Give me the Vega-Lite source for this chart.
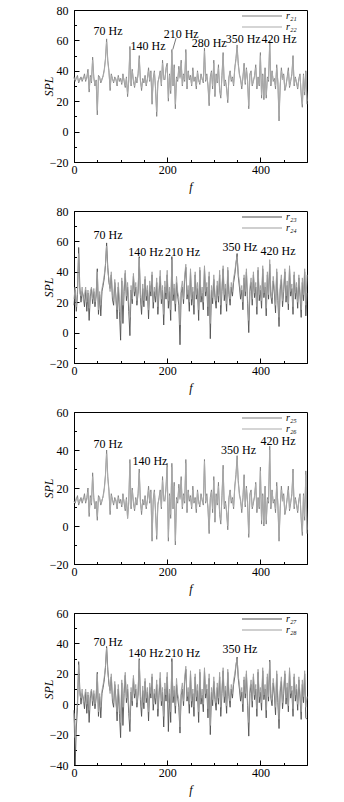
{
"padding": {"left": 41, "top": 3, "right": 5, "bottom": 5},
"spacing": 49,
"bounds": "flush",
"resolve": {"scale": {"x": "independent", "y": "independent", "color": "independent"}},
"config": {
  "view": {"stroke": "#000", "strokeWidth": 1},
  "axis": {"labelFont": "Liberation Serif", "labelFontSize": 12, "labelColor": "#000", "titleFont": "Liberation Serif", "titleFontSize": 12, "titleFontWeight": "normal", "titleFontStyle": "italic", "titleColor": "#000", "domainColor": "#000", "tickColor": "#000", "grid": false, "labelOverlap": false, "labelFlush": false, "tickSize": -5, "tickCount": 100},
  "axisX": {"labelPadding": 7, "titlePadding": 4},
  "axisY": {"labelPadding": 11, "titleX": -26, "titleBaseline": "middle", "titleAlign": "center"},
  "legend": {"labelFont": "Liberation Serif", "labelFontSize": 10, "labelFontStyle": "italic", "labelColor": "#000", "orient": "none", "legendX": 182, "legendY": 0, "title": null, "symbolType": "M-4,0H4", "symbolSize": 100, "symbolStrokeWidth": 1.2, "rowPadding": -2, "padding": 0, "labelOffset": 18},
  "text": {"font": "Liberation Serif", "fontSize": 12, "color": "#000"}
},
"datasets": {
"spec": [
{"f":0,"r21":36,"r22":35,"r23":18,"r24":22,"r25":13,"r26":12,"r27":-4,"r28":-6},
{"f":2.5,"r21":33,"r22":34,"r23":28,"r24":30,"r25":12,"r26":13,"r27":-40,"r28":-22},
{"f":5,"r21":35,"r22":36,"r23":14,"r24":17,"r25":14,"r26":15,"r27":-15,"r28":-8},
{"f":7.5,"r21":37,"r22":35,"r23":25,"r24":28,"r25":16,"r26":14,"r27":-2,"r28":2},
{"f":10,"r21":32,"r22":33,"r23":56,"r24":52,"r25":11,"r26":12,"r27":28,"r28":26},
{"f":12.5,"r21":34,"r22":35,"r23":30,"r24":26,"r25":13,"r26":14,"r27":10,"r28":6},
{"f":15,"r21":36,"r22":34,"r23":20,"r24":24,"r25":15,"r26":13,"r27":0,"r28":4},
{"f":17.5,"r21":33,"r22":34,"r23":27,"r24":30,"r25":12,"r26":13,"r27":7,"r28":10},
{"f":20,"r21":35,"r22":36,"r23":24,"r24":21,"r25":14,"r26":15,"r27":4,"r28":1},
{"f":22.5,"r21":38,"r22":36,"r23":17,"r24":25,"r25":17,"r26":15,"r27":-3,"r28":5},
{"f":25,"r21":33,"r22":34,"r23":28,"r24":30,"r25":12,"r26":13,"r27":8,"r28":10},
{"f":27.5,"r21":36,"r22":35,"r23":14,"r24":20,"r25":15,"r26":14,"r27":-6,"r28":0},
{"f":30,"r21":41,"r22":39,"r23":26,"r24":28,"r25":20,"r26":18,"r27":6,"r28":8},
{"f":32.5,"r21":26,"r22":28,"r23":8,"r24":16,"r25":5,"r26":7,"r27":-12,"r28":-4},
{"f":35,"r21":37,"r22":36,"r23":24,"r24":27,"r25":16,"r26":15,"r27":4,"r28":7},
{"f":37.5,"r21":32,"r22":33,"r23":29,"r24":30,"r25":11,"r26":12,"r27":9,"r28":10},
{"f":40,"r21":49,"r22":47,"r23":19,"r24":22,"r25":28,"r26":26,"r27":-1,"r28":2},
{"f":42.5,"r21":36,"r22":35,"r23":27,"r24":29,"r25":15,"r26":14,"r27":7,"r28":9},
{"f":45,"r21":30,"r22":31,"r23":17,"r24":20,"r25":9,"r26":10,"r27":-3,"r28":0},
{"f":47.5,"r21":34,"r22":33,"r23":24,"r24":26,"r25":13,"r26":12,"r27":4,"r28":6},
{"f":50,"r21":11,"r22":14,"r23":42,"r24":40,"r25":3,"r26":5,"r27":21,"r28":20},
{"f":52.5,"r21":37,"r22":36,"r23":12,"r24":15,"r25":16,"r26":15,"r27":-8,"r28":-5},
{"f":55,"r21":36,"r22":35,"r23":25,"r24":27,"r25":15,"r26":14,"r27":5,"r28":7},
{"f":57.5,"r21":32,"r22":33,"r23":11,"r24":18,"r25":11,"r26":12,"r27":-9,"r28":-2},
{"f":60,"r21":34,"r22":35,"r23":27,"r24":29,"r25":13,"r26":14,"r27":7,"r28":9},
{"f":62.5,"r21":37,"r22":36,"r23":31,"r24":33,"r25":16,"r26":15,"r27":11,"r28":13},
{"f":65,"r21":41,"r22":40,"r23":36,"r24":38,"r25":20,"r26":19,"r27":16,"r28":18},
{"f":67.5,"r21":48,"r22":47,"r23":44,"r24":45,"r25":27,"r26":26,"r27":24,"r28":25},
{"f":70,"r21":61,"r22":59,"r23":59,"r24":57,"r25":40,"r26":38,"r27":38,"r28":37},
{"f":72.5,"r21":47,"r22":46,"r23":43,"r24":41,"r25":26,"r26":25,"r27":23,"r28":21},
{"f":75,"r21":40,"r22":39,"r23":33,"r24":35,"r25":19,"r26":18,"r27":13,"r28":15},
{"f":77.5,"r21":27,"r22":29,"r23":29,"r24":27,"r25":6,"r26":8,"r27":9,"r28":7},
{"f":80,"r21":38,"r22":37,"r23":38,"r24":40,"r25":17,"r26":16,"r27":18,"r28":20},
{"f":82.5,"r21":35,"r22":34,"r23":22,"r24":25,"r25":14,"r26":13,"r27":2,"r28":5},
{"f":85,"r21":32,"r22":33,"r23":18,"r24":21,"r25":11,"r26":12,"r27":-2,"r28":1},
{"f":87.5,"r21":36,"r22":35,"r23":33,"r24":35,"r25":15,"r26":14,"r27":13,"r28":15},
{"f":90,"r21":34,"r22":35,"r23":24,"r24":20,"r25":13,"r26":14,"r27":4,"r28":0},
{"f":92.5,"r21":30,"r22":31,"r23":9,"r24":15,"r25":9,"r26":10,"r27":-11,"r28":-5},
{"f":95,"r21":37,"r22":36,"r23":30,"r24":33,"r25":16,"r26":15,"r27":10,"r28":13},
{"f":97.5,"r21":33,"r22":34,"r23":14,"r24":22,"r25":12,"r26":13,"r27":-6,"r28":2},
{"f":100,"r21":35,"r22":34,"r23":-5,"r24":8,"r25":14,"r26":13,"r27":-22,"r28":-12},
{"f":102.5,"r21":31,"r22":32,"r23":34,"r24":36,"r25":10,"r26":11,"r27":14,"r28":16},
{"f":105,"r21":38,"r22":37,"r23":6,"r24":18,"r25":17,"r26":16,"r27":-14,"r28":-2},
{"f":107.5,"r21":33,"r22":34,"r23":27,"r24":30,"r25":12,"r26":13,"r27":7,"r28":10},
{"f":110,"r21":29,"r22":30,"r23":39,"r24":41,"r25":8,"r26":9,"r27":19,"r28":21},
{"f":112.5,"r21":36,"r22":35,"r23":21,"r24":24,"r25":15,"r26":14,"r27":1,"r28":4},
{"f":115,"r21":23,"r22":25,"r23":30,"r24":33,"r25":4,"r26":4,"r27":10,"r28":13},
{"f":117.5,"r21":34,"r22":33,"r23":14,"r24":20,"r25":13,"r26":12,"r27":-6,"r28":0},
{"f":120,"r21":56,"r22":54,"r23":-2,"r24":10,"r25":35,"r26":33,"r27":-18,"r28":-10},
{"f":122.5,"r21":30,"r22":31,"r23":28,"r24":31,"r25":9,"r26":10,"r27":8,"r28":11},
{"f":125,"r21":41,"r22":40,"r23":19,"r24":22,"r25":20,"r26":19,"r27":-1,"r28":2},
{"f":127.5,"r21":33,"r22":34,"r23":37,"r24":39,"r25":12,"r26":13,"r27":17,"r28":19},
{"f":130,"r21":29,"r22":30,"r23":24,"r24":27,"r25":8,"r26":9,"r27":4,"r28":7},
{"f":132.5,"r21":36,"r22":35,"r23":30,"r24":33,"r25":15,"r26":14,"r27":10,"r28":13},
{"f":135,"r21":32,"r22":33,"r23":18,"r24":21,"r25":11,"r26":12,"r27":-2,"r28":1},
{"f":137.5,"r21":38,"r22":37,"r23":26,"r24":29,"r25":17,"r26":16,"r27":6,"r28":9},
{"f":140,"r21":50,"r22":48,"r23":50,"r24":49,"r25":30,"r26":28,"r27":30,"r28":29},
{"f":142.5,"r21":34,"r22":33,"r23":23,"r24":26,"r25":13,"r26":12,"r27":3,"r28":6},
{"f":145,"r21":27,"r22":29,"r23":12,"r24":18,"r25":6,"r26":8,"r27":-8,"r28":-2},
{"f":147.5,"r21":35,"r22":34,"r23":29,"r24":32,"r25":14,"r26":13,"r27":9,"r28":12},
{"f":150,"r21":32,"r22":33,"r23":17,"r24":21,"r25":11,"r26":12,"r27":-3,"r28":1},
{"f":152.5,"r21":37,"r22":36,"r23":35,"r24":37,"r25":16,"r26":15,"r27":15,"r28":17},
{"f":155,"r21":30,"r22":31,"r23":21,"r24":24,"r25":9,"r26":10,"r27":1,"r28":4},
{"f":157.5,"r21":35,"r22":34,"r23":28,"r24":31,"r25":14,"r26":13,"r27":8,"r28":11},
{"f":160,"r21":42,"r22":40,"r23":9,"r24":15,"r25":21,"r26":19,"r27":-11,"r28":-5},
{"f":162.5,"r21":33,"r22":34,"r23":31,"r24":34,"r25":12,"r26":13,"r27":11,"r28":14},
{"f":165,"r21":40,"r22":39,"r23":24,"r24":27,"r25":19,"r26":18,"r27":4,"r28":7},
{"f":167.5,"r21":18,"r22":20,"r23":38,"r24":40,"r25":-8,"r26":-6,"r27":18,"r28":20},
{"f":170,"r21":35,"r22":34,"r23":16,"r24":20,"r25":14,"r26":13,"r27":-4,"r28":0},
{"f":172.5,"r21":40,"r22":39,"r23":27,"r24":30,"r25":19,"r26":18,"r27":7,"r28":10},
{"f":175,"r21":28,"r22":29,"r23":20,"r24":24,"r25":7,"r26":8,"r27":0,"r28":4},
{"f":177.5,"r21":10,"r22":13,"r23":33,"r24":36,"r25":-7,"r26":-5,"r27":13,"r28":16},
{"f":180,"r21":32,"r22":33,"r23":12,"r24":17,"r25":11,"r26":12,"r27":-8,"r28":-3},
{"f":182.5,"r21":36,"r22":35,"r23":26,"r24":29,"r25":15,"r26":14,"r27":6,"r28":9},
{"f":185,"r21":40,"r22":39,"r23":37,"r24":41,"r25":19,"r26":18,"r27":17,"r28":21},
{"f":187.5,"r21":30,"r22":31,"r23":19,"r24":22,"r25":9,"r26":10,"r27":-1,"r28":2},
{"f":190,"r21":47,"r22":45,"r23":28,"r24":31,"r25":26,"r26":24,"r27":8,"r28":11},
{"f":192.5,"r21":35,"r22":34,"r23":5,"r24":12,"r25":14,"r26":13,"r27":-15,"r28":-8},
{"f":195,"r21":34,"r22":35,"r23":30,"r24":34,"r25":13,"r26":14,"r27":10,"r28":14},
{"f":197.5,"r21":42,"r22":40,"r23":22,"r24":26,"r25":21,"r26":19,"r27":2,"r28":6},
{"f":200,"r21":45,"r22":43,"r23":38,"r24":41,"r25":33,"r26":31,"r27":18,"r28":21},
{"f":202.5,"r21":20,"r22":22,"r23":16,"r24":21,"r25":-8,"r26":-6,"r27":-18,"r28":1},
{"f":205,"r21":38,"r22":37,"r23":27,"r24":30,"r25":17,"r26":16,"r27":7,"r28":10},
{"f":207.5,"r21":25,"r22":27,"r23":8,"r24":15,"r25":4,"r26":6,"r27":-12,"r28":-5},
{"f":210,"r21":54,"r22":52,"r23":50,"r24":48,"r25":33,"r26":31,"r27":30,"r28":28},
{"f":212.5,"r21":30,"r22":31,"r23":21,"r24":25,"r25":9,"r26":10,"r27":1,"r28":5},
{"f":215,"r21":44,"r22":42,"r23":29,"r24":32,"r25":23,"r26":21,"r27":9,"r28":12},
{"f":217.5,"r21":15,"r22":18,"r23":14,"r24":19,"r25":-10,"r26":-8,"r27":-6,"r28":-1},
{"f":220,"r21":36,"r22":35,"r23":33,"r24":37,"r25":15,"r26":14,"r27":13,"r28":17},
{"f":222.5,"r21":33,"r22":34,"r23":24,"r24":27,"r25":12,"r26":13,"r27":4,"r28":7},
{"f":225,"r21":43,"r22":41,"r23":18,"r24":23,"r25":22,"r26":20,"r27":-2,"r28":3},
{"f":227.5,"r21":36,"r22":35,"r23":-8,"r24":5,"r25":15,"r26":14,"r27":-19,"r28":-15},
{"f":230,"r21":47,"r22":45,"r23":26,"r24":29,"r25":26,"r26":24,"r27":6,"r28":9},
{"f":232.5,"r21":30,"r22":31,"r23":30,"r24":34,"r25":9,"r26":10,"r27":10,"r28":14},
{"f":235,"r21":38,"r22":37,"r23":19,"r24":22,"r25":17,"r26":16,"r27":-1,"r28":2},
{"f":237.5,"r21":33,"r22":34,"r23":35,"r24":38,"r25":12,"r26":13,"r27":15,"r28":18},
{"f":240,"r21":54,"r22":52,"r23":43,"r24":45,"r25":35,"r26":33,"r27":23,"r28":25},
{"f":242.5,"r21":28,"r22":30,"r23":22,"r24":25,"r25":7,"r26":9,"r27":2,"r28":5},
{"f":245,"r21":40,"r22":39,"r23":28,"r24":31,"r25":19,"r26":18,"r27":8,"r28":11},
{"f":247.5,"r21":34,"r22":35,"r23":14,"r24":20,"r25":13,"r26":14,"r27":-6,"r28":0},
{"f":250,"r21":37,"r22":36,"r23":40,"r24":42,"r25":16,"r26":15,"r27":20,"r28":22},
{"f":252.5,"r21":30,"r22":31,"r23":18,"r24":22,"r25":9,"r26":10,"r27":-2,"r28":2},
{"f":255,"r21":42,"r22":40,"r23":27,"r24":30,"r25":21,"r26":19,"r27":7,"r28":10},
{"f":257.5,"r21":33,"r22":34,"r23":12,"r24":18,"r25":12,"r26":13,"r27":-8,"r28":-2},
{"f":260,"r21":36,"r22":35,"r23":38,"r24":40,"r25":15,"r26":14,"r27":18,"r28":20},
{"f":262.5,"r21":28,"r22":30,"r23":22,"r24":25,"r25":7,"r26":9,"r27":2,"r28":5},
{"f":265,"r21":40,"r22":39,"r23":29,"r24":33,"r25":19,"r26":18,"r27":9,"r28":13},
{"f":267.5,"r21":34,"r22":33,"r23":8,"r24":15,"r25":13,"r26":12,"r27":-12,"r28":-5},
{"f":270,"r21":31,"r22":32,"r23":41,"r24":43,"r25":10,"r26":11,"r27":21,"r28":23},
{"f":272.5,"r21":38,"r22":37,"r23":20,"r24":24,"r25":17,"r26":16,"r27":0,"r28":4},
{"f":275,"r21":35,"r22":34,"r23":26,"r24":30,"r25":14,"r26":13,"r27":6,"r28":10},
{"f":277.5,"r21":32,"r22":33,"r23":15,"r24":20,"r25":11,"r26":12,"r27":-5,"r28":0},
{"f":280,"r21":55,"r22":53,"r23":42,"r24":44,"r25":35,"r26":34,"r27":22,"r28":24},
{"f":282.5,"r21":33,"r22":34,"r23":24,"r24":27,"r25":12,"r26":13,"r27":4,"r28":7},
{"f":285,"r21":38,"r22":37,"r23":30,"r24":33,"r25":17,"r26":16,"r27":10,"r28":13},
{"f":287.5,"r21":30,"r22":31,"r23":11,"r24":17,"r25":9,"r26":10,"r27":-9,"r28":-3},
{"f":290,"r21":17,"r22":19,"r23":37,"r24":40,"r25":-4,"r26":-2,"r27":17,"r28":20},
{"f":292.5,"r21":36,"r22":35,"r23":-4,"r24":6,"r25":15,"r26":14,"r27":-20,"r28":-14},
{"f":295,"r21":40,"r22":39,"r23":28,"r24":31,"r25":19,"r26":18,"r27":8,"r28":11},
{"f":297.5,"r21":28,"r22":30,"r23":19,"r24":23,"r25":7,"r26":9,"r27":-1,"r28":3},
{"f":300,"r21":47,"r22":45,"r23":35,"r24":38,"r25":26,"r26":24,"r27":15,"r28":18},
{"f":302.5,"r21":23,"r22":25,"r23":23,"r24":26,"r25":2,"r26":4,"r27":3,"r28":6},
{"f":305,"r21":38,"r22":37,"r23":16,"r24":21,"r25":17,"r26":16,"r27":-4,"r28":1},
{"f":307.5,"r21":32,"r22":33,"r23":31,"r24":34,"r25":11,"r26":12,"r27":11,"r28":14},
{"f":310,"r21":44,"r22":42,"r23":20,"r24":24,"r25":23,"r26":21,"r27":0,"r28":4},
{"f":312.5,"r21":27,"r22":28,"r23":38,"r24":41,"r25":6,"r26":7,"r27":18,"r28":21},
{"f":315,"r21":22,"r22":24,"r23":12,"r24":18,"r25":1,"r26":3,"r27":-8,"r28":-2},
{"f":317.5,"r21":37,"r22":36,"r23":27,"r24":30,"r25":16,"r26":15,"r27":7,"r28":10},
{"f":320,"r21":52,"r22":50,"r23":42,"r24":44,"r25":32,"r26":30,"r27":22,"r28":24},
{"f":322.5,"r21":30,"r22":31,"r23":21,"r24":25,"r25":9,"r26":10,"r27":1,"r28":5},
{"f":325,"r21":34,"r22":33,"r23":29,"r24":32,"r25":13,"r26":12,"r27":9,"r28":12},
{"f":327.5,"r21":28,"r22":29,"r23":14,"r24":19,"r25":7,"r26":8,"r27":-6,"r28":-1},
{"f":330,"r21":19,"r22":21,"r23":41,"r24":43,"r25":-2,"r26":0,"r27":21,"r28":23},
{"f":332.5,"r21":36,"r22":35,"r23":25,"r24":28,"r25":15,"r26":14,"r27":5,"r28":8},
{"f":335,"r21":40,"r22":39,"r23":18,"r24":22,"r25":19,"r26":18,"r27":-2,"r28":2},
{"f":337.5,"r21":33,"r22":34,"r23":30,"r24":33,"r25":12,"r26":13,"r27":10,"r28":13},
{"f":340,"r21":36,"r22":35,"r23":24,"r24":27,"r25":15,"r26":14,"r27":4,"r28":7},
{"f":342.5,"r21":30,"r22":31,"r23":33,"r24":36,"r25":9,"r26":10,"r27":13,"r28":16},
{"f":345,"r21":42,"r22":41,"r23":38,"r24":40,"r25":21,"r26":20,"r27":18,"r28":20},
{"f":347.5,"r21":48,"r22":47,"r23":45,"r24":46,"r25":27,"r26":26,"r27":25,"r28":26},
{"f":350,"r21":57,"r22":55,"r23":52,"r24":50,"r25":37,"r26":35,"r27":31,"r28":30},
{"f":352.5,"r21":45,"r22":44,"r23":37,"r24":39,"r25":24,"r26":23,"r27":17,"r28":19},
{"f":355,"r21":38,"r22":37,"r23":30,"r24":33,"r25":17,"r26":16,"r27":10,"r28":13},
{"f":357.5,"r21":34,"r22":35,"r23":22,"r24":26,"r25":13,"r26":14,"r27":2,"r28":6},
{"f":360,"r21":28,"r22":30,"r23":28,"r24":31,"r25":7,"r26":9,"r27":8,"r28":11},
{"f":362.5,"r21":36,"r22":35,"r23":15,"r24":20,"r25":15,"r26":14,"r27":-5,"r28":0},
{"f":365,"r21":45,"r22":43,"r23":36,"r24":38,"r25":27,"r26":25,"r27":16,"r28":18},
{"f":367.5,"r21":31,"r22":32,"r23":24,"r24":27,"r25":10,"r26":11,"r27":4,"r28":7},
{"f":370,"r21":42,"r22":41,"r23":40,"r24":42,"r25":21,"r26":20,"r27":20,"r28":22},
{"f":372.5,"r21":33,"r22":34,"r23":19,"r24":23,"r25":12,"r26":13,"r27":-1,"r28":3},
{"f":375,"r21":15,"r22":17,"r23":0,"r24":8,"r25":-6,"r26":-4,"r27":-21,"r28":-12},
{"f":377.5,"r21":38,"r22":37,"r23":27,"r24":30,"r25":17,"r26":16,"r27":7,"r28":10},
{"f":380,"r21":40,"r22":39,"r23":33,"r24":36,"r25":19,"r26":18,"r27":13,"r28":16},
{"f":382.5,"r21":30,"r22":31,"r23":18,"r24":22,"r25":9,"r26":10,"r27":-2,"r28":2},
{"f":385,"r21":33,"r22":34,"r23":38,"r24":40,"r25":12,"r26":13,"r27":18,"r28":20},
{"f":387.5,"r21":37,"r22":36,"r23":23,"r24":26,"r25":16,"r26":15,"r27":3,"r28":6},
{"f":390,"r21":44,"r22":42,"r23":30,"r24":33,"r25":23,"r26":22,"r27":10,"r28":13},
{"f":392.5,"r21":28,"r22":30,"r23":12,"r24":17,"r25":7,"r26":9,"r27":-8,"r28":-3},
{"f":395,"r21":36,"r22":35,"r23":41,"r24":43,"r25":15,"r26":14,"r27":21,"r28":23},
{"f":397.5,"r21":30,"r22":31,"r23":21,"r24":25,"r25":9,"r26":10,"r27":1,"r28":5},
{"f":400,"r21":52,"r22":50,"r23":28,"r24":31,"r25":31,"r26":29,"r27":8,"r28":11},
{"f":402.5,"r21":22,"r22":24,"r23":16,"r24":21,"r25":1,"r26":3,"r27":-4,"r28":1},
{"f":405,"r21":38,"r22":37,"r23":42,"r24":44,"r25":17,"r26":16,"r27":22,"r28":24},
{"f":407.5,"r21":21,"r22":23,"r23":23,"r24":26,"r25":0,"r26":2,"r27":3,"r28":6},
{"f":410,"r21":42,"r22":40,"r23":30,"r24":33,"r25":21,"r26":20,"r27":10,"r28":13},
{"f":412.5,"r21":22,"r22":24,"r23":11,"r24":16,"r25":1,"r26":3,"r27":-9,"r28":-4},
{"f":415,"r21":36,"r22":35,"r23":38,"r24":40,"r25":15,"r26":14,"r27":18,"r28":20},
{"f":417.5,"r21":33,"r22":34,"r23":22,"r24":25,"r25":12,"r26":13,"r27":2,"r28":5},
{"f":420,"r21":60,"r22":58,"r23":45,"r24":48,"r25":42,"r26":40,"r27":29,"r28":28},
{"f":422.5,"r21":30,"r22":31,"r23":24,"r24":27,"r25":9,"r26":10,"r27":4,"r28":7},
{"f":425,"r21":40,"r22":39,"r23":19,"r24":23,"r25":19,"r26":18,"r27":-1,"r28":3},
{"f":427.5,"r21":33,"r22":34,"r23":34,"r24":37,"r25":12,"r26":13,"r27":14,"r28":17},
{"f":430,"r21":35,"r22":34,"r23":26,"r24":29,"r25":14,"r26":13,"r27":6,"r28":9},
{"f":432.5,"r21":28,"r22":30,"r23":13,"r24":18,"r25":7,"r26":9,"r27":-7,"r28":-2},
{"f":435,"r21":44,"r22":42,"r23":40,"r24":42,"r25":23,"r26":21,"r27":20,"r28":22},
{"f":437.5,"r21":32,"r22":33,"r23":21,"r24":25,"r25":11,"r26":12,"r27":1,"r28":5},
{"f":440,"r21":7,"r22":10,"r23":4,"r24":10,"r25":-8,"r26":-6,"r27":-16,"r28":-10},
{"f":442.5,"r21":30,"r22":31,"r23":28,"r24":31,"r25":9,"r26":10,"r27":8,"r28":11},
{"f":445,"r21":42,"r22":40,"r23":35,"r24":38,"r25":21,"r26":19,"r27":15,"r28":18},
{"f":447.5,"r21":35,"r22":34,"r23":17,"r24":21,"r25":14,"r26":13,"r27":-3,"r28":1},
{"f":450,"r21":38,"r22":37,"r23":27,"r24":30,"r25":17,"r26":16,"r27":7,"r28":10},
{"f":452.5,"r21":27,"r22":28,"r23":40,"r24":42,"r25":6,"r26":7,"r27":20,"r28":22},
{"f":455,"r21":30,"r22":31,"r23":20,"r24":24,"r25":9,"r26":10,"r27":0,"r28":4},
{"f":457.5,"r21":36,"r22":35,"r23":31,"r24":34,"r25":15,"r26":14,"r27":11,"r28":14},
{"f":460,"r21":42,"r22":40,"r23":15,"r24":19,"r25":21,"r26":19,"r27":-5,"r28":-1},
{"f":462.5,"r21":29,"r22":30,"r23":42,"r24":44,"r25":8,"r26":9,"r27":22,"r28":24},
{"f":465,"r21":33,"r22":34,"r23":24,"r24":27,"r25":12,"r26":13,"r27":4,"r28":7},
{"f":467.5,"r21":38,"r22":37,"r23":29,"r24":32,"r25":17,"r26":16,"r27":9,"r28":12},
{"f":470,"r21":50,"r22":48,"r23":12,"r24":17,"r25":30,"r26":28,"r27":-8,"r28":-3},
{"f":472.5,"r21":30,"r22":31,"r23":38,"r24":40,"r25":9,"r26":10,"r27":18,"r28":20},
{"f":475,"r21":36,"r22":35,"r23":22,"r24":26,"r25":15,"r26":14,"r27":2,"r28":6},
{"f":477.5,"r21":32,"r22":33,"r23":30,"r24":33,"r25":11,"r26":12,"r27":10,"r28":13},
{"f":480,"r21":28,"r22":29,"r23":16,"r24":20,"r25":7,"r26":8,"r27":-4,"r28":0},
{"f":482.5,"r21":35,"r22":34,"r23":36,"r24":38,"r25":14,"r26":13,"r27":16,"r28":18},
{"f":485,"r21":38,"r22":37,"r23":24,"r24":27,"r25":17,"r26":16,"r27":4,"r28":7},
{"f":487.5,"r21":24,"r22":26,"r23":10,"r24":15,"r25":3,"r26":5,"r27":-10,"r28":-5},
{"f":490,"r21":16,"r22":18,"r23":33,"r24":36,"r25":-5,"r26":-3,"r27":13,"r28":16},
{"f":492.5,"r21":38,"r22":37,"r23":21,"r24":25,"r25":17,"r26":16,"r27":1,"r28":5},
{"f":495,"r21":24,"r22":26,"r23":40,"r24":42,"r25":3,"r26":5,"r27":20,"r28":22},
{"f":497.5,"r21":40,"r22":39,"r23":11,"r24":18,"r25":29,"r26":27,"r27":-9,"r28":-2},
{"f":500,"r21":18,"r22":20,"r23":26,"r24":38,"r25":-4,"r26":-2,"r27":-10,"r28":5}
],
"ann": [
{"panel":1,"f":73,"SPL":66,"label":"70 Hz"},
{"panel":1,"f":159,"SPL":56,"label":"140 Hz"},
{"panel":1,"f":230,"SPL":64,"label":"210 Hz"},
{"panel":1,"f":290,"SPL":58,"label":"280 Hz"},
{"panel":1,"f":363,"SPL":61,"label":"350 Hz"},
{"panel":1,"f":440,"SPL":61,"label":"420 Hz"},
{"panel":2,"f":73,"SPL":64,"label":"70 Hz"},
{"panel":2,"f":154,"SPL":53,"label":"140 Hz"},
{"panel":2,"f":233,"SPL":53,"label":"210 Hz"},
{"panel":2,"f":356,"SPL":56,"label":"350 Hz"},
{"panel":2,"f":438,"SPL":54,"label":"420 Hz"},
{"panel":3,"f":73,"SPL":43,"label":"70 Hz"},
{"panel":3,"f":163,"SPL":34,"label":"140 Hz"},
{"panel":3,"f":353,"SPL":40,"label":"350 Hz"},
{"panel":3,"f":438,"SPL":45,"label":"420 Hz"},
{"panel":4,"f":73,"SPL":41,"label":"70 Hz"},
{"panel":4,"f":154,"SPL":34,"label":"140 Hz"},
{"panel":4,"f":233,"SPL":34,"label":"210 Hz"},
{"panel":4,"f":356,"SPL":36,"label":"350 Hz"}
],
"lead": [{"f":212,"SPL":54,"f2":219,"SPL2":61.5}]
},
"vconcat": [
{
 "width": 233, "height": 152,
 "layer": [
  {"data": {"name": "spec"}, "transform": [{"fold": ["r21", "r22"], "as": ["series", "SPL"]}],
   "mark": {"type": "line", "strokeWidth": 0.9},
   "encoding": {
    "x": {"field": "f", "type": "quantitative", "scale": {"domain": [0, 500], "nice": false}, "axis": {"values": [0,50,100,150,200,250,300,350,400,450,500], "tickCount": 100, "labelExpr": "datum.value % 200 === 0 ? datum.label : ''", "tickSize": {"condition": {"test": "datum.value % 200 === 0", "value": -5}, "value": -2.5}, "title": "f"}},
    "y": {"field": "SPL", "type": "quantitative", "scale": {"domain": [-20, 80], "nice": false}, "axis": {"values": [-20,-10,0,10,20,30,40,50,60,70,80], "tickCount": 100, "labelExpr": "datum.value % 20 === 0 ? datum.label : ''", "tickSize": {"condition": {"test": "datum.value % 20 === 0", "value": -5}, "value": -2.5}, "title": "SPL"}},
    "color": {"field": "series", "type": "nominal", "scale": {"domain": ["r21", "r22"], "range": ["#808080", "#ababab"]}, "legend": {"labelExpr": "datum.label == 'r21' ? 'r₂₁' : 'r₂₂'"}}
   }},
  {"data": {"name": "ann"}, "transform": [{"filter": "datum.panel == 1"}], "mark": {"type": "text"},
   "encoding": {"x": {"field": "f", "type": "quantitative"}, "y": {"field": "SPL", "type": "quantitative"}, "text": {"field": "label"}}},
  {"data": {"name": "lead"}, "mark": {"type": "rule", "strokeWidth": 0.8, "color": "#555"},
   "encoding": {"x": {"field": "f", "type": "quantitative"}, "y": {"field": "SPL", "type": "quantitative"}, "x2": {"field": "f2"}, "y2": {"field": "SPL2"}}}
 ]
},
{
 "width": 233, "height": 152,
 "layer": [
  {"data": {"name": "spec"}, "transform": [{"fold": ["r23", "r24"], "as": ["series", "SPL"]}],
   "mark": {"type": "line", "strokeWidth": 0.9},
   "encoding": {
    "x": {"field": "f", "type": "quantitative", "scale": {"domain": [0, 500], "nice": false}, "axis": {"values": [0,50,100,150,200,250,300,350,400,450,500], "tickCount": 100, "labelExpr": "datum.value % 200 === 0 ? datum.label : ''", "tickSize": {"condition": {"test": "datum.value % 200 === 0", "value": -5}, "value": -2.5}, "title": "f"}},
    "y": {"field": "SPL", "type": "quantitative", "scale": {"domain": [-20, 80], "nice": false}, "axis": {"values": [-20,-10,0,10,20,30,40,50,60,70,80], "tickCount": 100, "labelExpr": "datum.value % 20 === 0 ? datum.label : ''", "tickSize": {"condition": {"test": "datum.value % 20 === 0", "value": -5}, "value": -2.5}, "title": "SPL"}},
    "color": {"field": "series", "type": "nominal", "scale": {"domain": ["r23", "r24"], "range": ["#505050", "#a0a0a0"]}, "legend": {"labelExpr": "datum.label == 'r23' ? 'r₂₃' : 'r₂₄'"}}
   }},
  {"data": {"name": "ann"}, "transform": [{"filter": "datum.panel == 2"}], "mark": {"type": "text"},
   "encoding": {"x": {"field": "f", "type": "quantitative"}, "y": {"field": "SPL", "type": "quantitative"}, "text": {"field": "label"}}}
 ]
},
{
 "width": 233, "height": 152,
 "layer": [
  {"data": {"name": "spec"}, "transform": [{"fold": ["r25", "r26"], "as": ["series", "SPL"]}],
   "mark": {"type": "line", "strokeWidth": 0.9},
   "encoding": {
    "x": {"field": "f", "type": "quantitative", "scale": {"domain": [0, 500], "nice": false}, "axis": {"values": [0,50,100,150,200,250,300,350,400,450,500], "tickCount": 100, "labelExpr": "datum.value % 200 === 0 ? datum.label : ''", "tickSize": {"condition": {"test": "datum.value % 200 === 0", "value": -5}, "value": -2.5}, "title": "f"}},
    "y": {"field": "SPL", "type": "quantitative", "scale": {"domain": [-20, 60], "nice": false}, "axis": {"values": [-20,-10,0,10,20,30,40,50,60], "tickCount": 100, "labelExpr": "datum.value % 20 === 0 ? datum.label : ''", "tickSize": {"condition": {"test": "datum.value % 20 === 0", "value": -5}, "value": -2.5}, "title": "SPL"}},
    "color": {"field": "series", "type": "nominal", "scale": {"domain": ["r25", "r26"], "range": ["#808080", "#ababab"]}, "legend": {"labelExpr": "datum.label == 'r25' ? 'r₂₅' : 'r₂₆'"}}
   }},
  {"data": {"name": "ann"}, "transform": [{"filter": "datum.panel == 3"}], "mark": {"type": "text"},
   "encoding": {"x": {"field": "f", "type": "quantitative"}, "y": {"field": "SPL", "type": "quantitative"}, "text": {"field": "label"}}}
 ]
},
{
 "width": 233, "height": 152,
 "layer": [
  {"data": {"name": "spec"}, "transform": [{"fold": ["r27", "r28"], "as": ["series", "SPL"]}],
   "mark": {"type": "line", "strokeWidth": 0.9},
   "encoding": {
    "x": {"field": "f", "type": "quantitative", "scale": {"domain": [0, 500], "nice": false}, "axis": {"values": [0,50,100,150,200,250,300,350,400,450,500], "tickCount": 100, "labelExpr": "datum.value % 200 === 0 ? datum.label : ''", "tickSize": {"condition": {"test": "datum.value % 200 === 0", "value": -5}, "value": -2.5}, "title": "f"}},
    "y": {"field": "SPL", "type": "quantitative", "scale": {"domain": [-40, 60], "nice": false}, "axis": {"values": [-40,-30,-20,-10,0,10,20,30,40,50,60], "tickCount": 100, "labelExpr": "datum.value % 20 === 0 ? datum.label : ''", "tickSize": {"condition": {"test": "datum.value % 20 === 0", "value": -5}, "value": -2.5}, "title": "SPL"}},
    "color": {"field": "series", "type": "nominal", "scale": {"domain": ["r27", "r28"], "range": ["#505050", "#a0a0a0"]}, "legend": {"labelExpr": "datum.label == 'r27' ? 'r₂₇' : 'r₂₈'"}}
   }},
  {"data": {"name": "ann"}, "transform": [{"filter": "datum.panel == 4"}], "mark": {"type": "text"},
   "encoding": {"x": {"field": "f", "type": "quantitative"}, "y": {"field": "SPL", "type": "quantitative"}, "text": {"field": "label"}}}
 ]
}
]
}
